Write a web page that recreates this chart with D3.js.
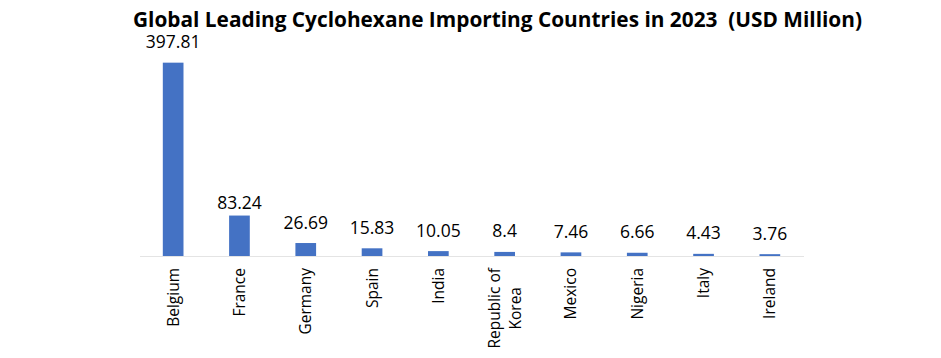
<!DOCTYPE html>
<html>
<head>
<meta charset="utf-8">
<script src="https://cdn.jsdelivr.net/npm/d3@7"></script>
<style>
  html, body { margin: 0; padding: 0; background: #fff; }
  svg { display: block; }
</style>
</head>
<body>
<svg id="chart" width="941" height="358"></svg>
<script>
const countries = ["Belgium", "France", "Germany", "Spain", "India", "Republic of Korea", "Mexico", "Nigeria", "Italy", "Ireland"];
const labelLines = [["Belgium"], ["France"], ["Germany"], ["Spain"], ["India"], ["Republic of", "Korea"], ["Mexico"], ["Nigeria"], ["Italy"], ["Ireland"]];
const values = [397.81, 83.24, 26.69, 15.83, 10.05, 8.4, 7.46, 6.66, 4.43, 3.76];
const valueLabels = ["397.81", "83.24", "26.69", "15.83", "10.05", "8.4", "7.46", "6.66", "4.43", "3.76"];
const titleText = "Global Leading Cyclohexane Importing Countries in 2023  (USD Million)";

const svg = d3.select("#chart");
const font = "'Open Sans', 'Noto Sans', sans-serif";

const x = d3.scaleBand().domain(countries).range([140, 803]).paddingInner(0.688).paddingOuter(0.344);
const y = d3.scaleLinear().domain([0, 400]).range([256, 61.6]);

// title
svg.append("text")
  .attr("x", 497.5).attr("y", 26.5)
  .attr("text-anchor", "middle")
  .style("white-space", "pre")
  .attr("font-family", font)
  .attr("font-weight", "bold")
  .attr("font-size", 22)
  .attr("fill", "#000")
  .attr("textLength", 729)
  .attr("lengthAdjust", "spacingAndGlyphs")
  .text(titleText);

// bars
svg.append("g").selectAll("rect").data(countries).join("rect")
  .attr("x", d => x(d))
  .attr("width", x.bandwidth())
  .attr("y", (d, i) => y(values[i]))
  .attr("height", (d, i) => y(0) - y(values[i]))
  .attr("fill", "#4472C4");

// axis
const axis = svg.append("g").attr("transform", `translate(0,${y(0)})`)
  .call(d3.axisBottom(x).tickSize(0).tickFormat(""));
axis.select(".domain").attr("stroke", "#c8c8c8").attr("stroke-width", 1).attr("stroke-dasharray", "1,1");

// value labels
const labelNudge = { "France": 8 };
svg.append("g").selectAll("text").data(countries).join("text")
  .attr("x", d => x(d) + x.bandwidth() / 2)
  .attr("y", (d, i) => y(values[i]) - 14.5 + (labelNudge[d] || 0))
  .attr("text-anchor", "middle")
  .attr("font-family", font)
  .attr("font-size", 17.5)
  .attr("fill", "#000")
  .text((d, i) => valueLabels[i]);

// category labels (rotated)
const catG = svg.append("g");
countries.forEach((c, i) => {
  const lines = labelLines[i];
  const cx = x(c) + x.bandwidth() / 2;
  const g = catG.append("g");
  const lineH = 21;
  const texts = lines.map((ln, j) => g.append("text")
    .attr("font-family", font)
    .attr("font-size", 15.5)
    .attr("fill", "#000")
    .text(ln));
  const widths = texts.map(t => t.node().getComputedTextLength());
  const maxW = d3.max(widths);
  const top = 268;
  const n = lines.length;
  texts.forEach((t, j) => {
    const bx = cx + 5.5 + (j - (n - 1) / 2) * lineH;
    const midY = top + maxW / 2;
    t.attr("text-anchor", "middle")
     .attr("transform", `translate(${bx},${midY}) rotate(-90)`);
  });
});
</script>
</body>
</html>
